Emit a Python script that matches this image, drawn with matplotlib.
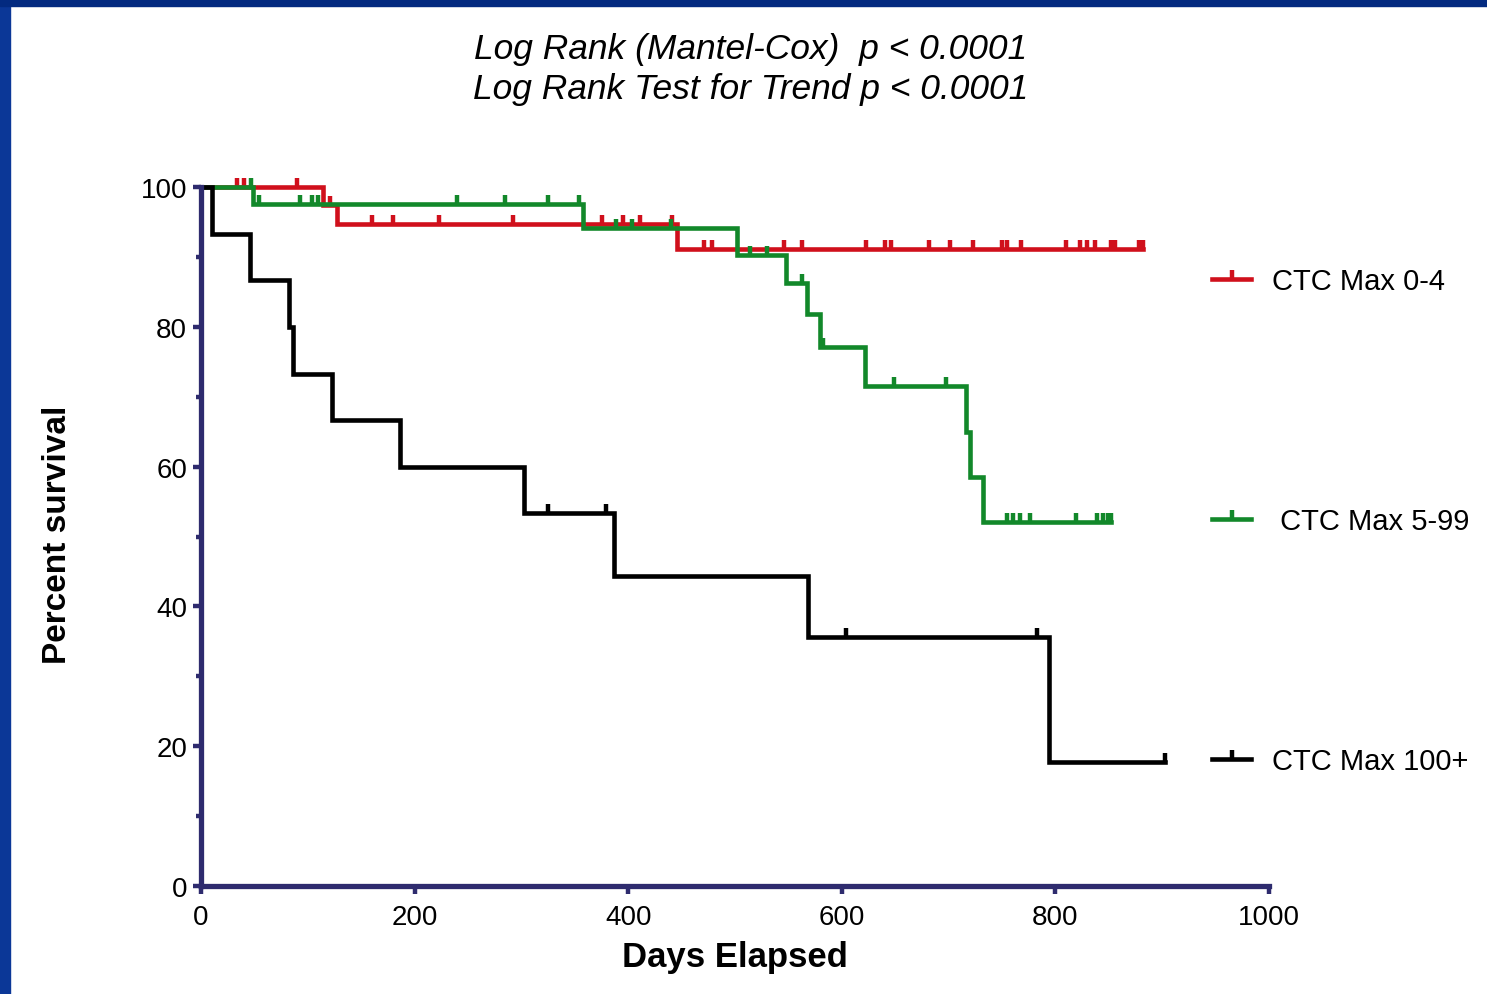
import numpy as np
import matplotlib
matplotlib.use("Agg")
from matplotlib import pyplot as plt
from matplotlib.path import Path
from matplotlib.lines import Line2D
from matplotlib.patches import Rectangle

plt.rcParams['font.family'] = ['Liberation Sans', 'DejaVu Sans']

# Kaplan-Meier steps (day of drop, percent survival after it) and censored days
red_t = [0, 114, 127, 446]
red_s = [100, 97.4, 94.7, 91.2]
red_end = 882
red_cens = [34, 40, 90, 121, 160, 180, 223, 292, 375, 395, 411, 441, 471, 478,
            546, 563, 623, 640, 646, 682, 701, 723, 750, 755, 768, 810, 823,
            830, 837, 852, 856, 878, 882]

green_t = [0, 49, 358, 502, 548, 567, 580, 622, 716, 720, 732]
green_s = [100, 97.6, 94.1, 90.3, 86.3, 81.8, 77.1, 71.5, 65.0, 58.5, 52.1]
green_end = 852
green_cens = [47, 54, 93, 104, 110, 240, 285, 325, 354, 389, 404, 440, 514, 530,
              563, 582, 649, 698, 755, 760, 767, 776, 819, 839, 845, 849, 852]

black_t = [0, 10, 46, 82, 86, 123, 186, 302, 387, 568, 794]
black_s = [100, 93.3, 86.7, 80.0, 73.3, 66.7, 60.0, 53.3, 44.4, 35.6, 17.8]
black_end = 903
black_cens = [325, 379, 604, 783, 903]

labels = ["CTC Max 0-4", " CTC Max 5-99", "CTC Max 100+"]
colors = ['#d0101c', '#12882a', '#000000']
title_lines = ["Log Rank (Mantel-Cox)  p < 0.0001", "Log Rank Test for Trend p < 0.0001"]

navy = '#2e2b6e'
tick_mark = Path([(0, 0), (0, 1)])


def level_at(times, surv, x):
    # survival level at day x on a right-continuous step curve
    idx = np.searchsorted(times, x, side='right') - 1
    return np.asarray(surv)[idx]


fig = plt.figure(figsize=(14.87, 9.95), dpi=100)
fig.patch.set_facecolor('white')
# blue slide frame
fig.patches.append(Rectangle((0, 0), 10 / 1487, 1, transform=fig.transFigure,
                             color='#0b3797', zorder=0))
fig.patches.append(Rectangle((0, 1 - 7 / 995), 1, 7 / 995, transform=fig.transFigure,
                             color='#032a80', zorder=0))

ax = fig.add_axes([201 / 1487, 1 - 887 / 995, 1068 / 1487, 699 / 995])

groups = [(red_t, red_s, red_end, red_cens),
          (green_t, green_s, green_end, green_cens),
          (black_t, black_s, black_end, black_cens)]

for (t, s, end, cens), c in zip(groups, colors):
    xs = list(t) + [end]
    ys = list(s) + [s[-1]]
    ax.step(xs, ys, where='post', color=c, lw=3.3, clip_on=False,
            solid_joinstyle='miter')
    cy = level_at(t, s, np.array(cens))
    ax.plot(cens, cy, ls='none', marker=tick_mark, ms=13, mew=3.2,
            color=c, clip_on=False)

ax.set_xlim(0, 1000)
ax.set_ylim(0, 100)
ax.set_xticks(np.arange(0, 1001, 200))
ax.set_yticks(np.arange(0, 101, 20))
ax.set_yticks(np.arange(10, 100, 20), minor=True)

for side in ['top', 'right']:
    ax.spines[side].set_visible(False)
for side in ['left', 'bottom']:
    ax.spines[side].set_color(navy)
    ax.spines[side].set_linewidth(3.8)

ax.tick_params(axis='both', which='major', direction='out', length=6, width=3.2,
               color=navy, labelsize=20, labelcolor='black')
ax.tick_params(axis='y', which='major', pad=4)
ax.tick_params(axis='x', which='major', pad=7)
ax.tick_params(axis='y', which='minor', direction='out', length=3.5, width=3.2, color=navy)

ax.set_xlabel("Days Elapsed", fontsize=25, fontweight='bold')
ax.set_ylabel("Percent survival", fontsize=24, fontweight='bold')
ax.xaxis.set_label_coords(0.5, (887 - 958) / 699)
ax.xaxis.label.set_va('center')
ax.yaxis.set_label_coords((57 - 201) / 1068, (887 - 535) / 699)
ax.yaxis.label.set_va('center')

fig.text(751 / 1487, 1 - 50 / 995, title_lines[0], ha='center', va='center',
         fontsize=25.5, style='italic')
fig.text(751 / 1487, 1 - 89 / 995, title_lines[1], ha='center', va='center',
         fontsize=25.5, style='italic')

handles = [Line2D([], [], color=c, lw=3.3, marker=tick_mark, ms=13, mew=3.2)
           for c in colors]
ax.legend(handles, labels, loc='center left', bbox_to_anchor=(1212 / 1487, 1 - 522 / 995),
          bbox_transform=fig.transFigure, frameon=False, borderpad=0, borderaxespad=0,
          handlelength=1.35, handletextpad=0.72, labelspacing=7.26, fontsize=21,
          numpoints=1)

fig.savefig("out.png", dpi=100, facecolor='white')
